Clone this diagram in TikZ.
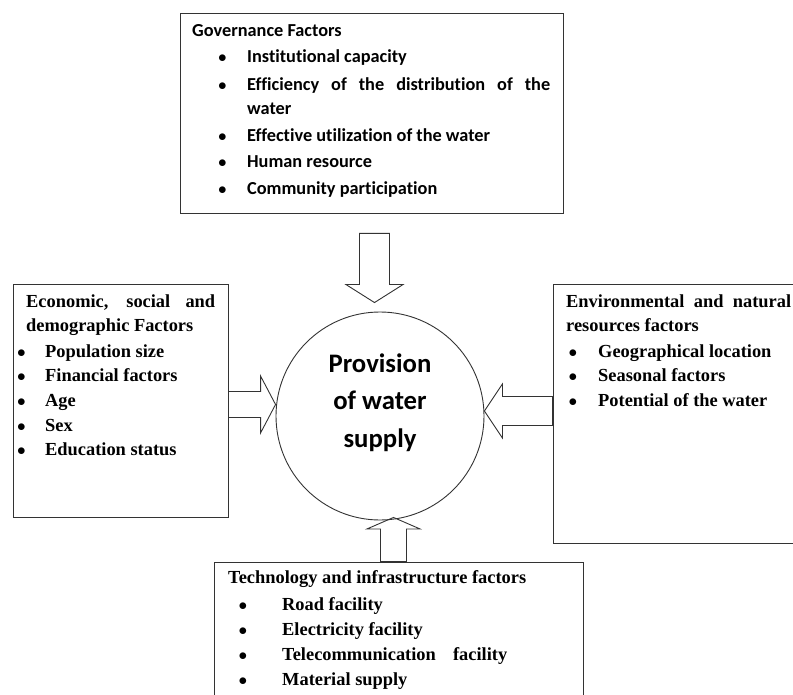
\documentclass[tikz,border=0pt]{standalone}
\usepackage{fontspec}
\setmainfont{Liberation Serif}
\newfontfamily\calibri[Ligatures=NoCommon]{Carlito}
\usetikzlibrary{calc}

\tikzset{
  box/.style={draw=black!80, line width=0.9pt, inner sep=0pt},
  txt/.style={anchor=base west, inner sep=0pt, font=\bfseries\fontsize{18.4}{22}\selectfont},
  dot/.style={anchor=base, inner sep=0pt, font=\fontsize{19}{22}\selectfont},
  govtxt/.style={anchor=base west, inner sep=0pt, font=\calibri\bfseries\fontsize{18.3}{22}\selectfont},
  hubtxt/.style={anchor=base, inner sep=0pt, font=\calibri\bfseries\fontsize{26.7}{32}\selectfont},
  % hollow block arrow: shaft half width / head half width / head length
  bigarrow/.style n args={3}{draw=black!80, line width=0.9pt, line join=miter,
    to path={let \p1=(\tikztostart), \p2=(\tikztotarget),
      \n1={atan2(\y2-\y1,\x2-\x1)}, \n2={veclen(\x2-\x1,\y2-\y1)} in
      ($(\p1)+(\n1+90:#1)$) -- ($(\p1)+(\n1:\n2-#3)+(\n1+90:#1)$)
      -- ($(\p1)+(\n1:\n2-#3)+(\n1+90:#2)$) -- (\p2)
      -- ($(\p1)+(\n1:\n2-#3)+(\n1-90:#2)$) -- ($(\p1)+(\n1:\n2-#3)+(\n1-90:#1)$)
      -- ($(\p1)+(\n1-90:#1)$) -- cycle}},
}

\begin{document}
\begin{tikzpicture}[x=1pt,y=-1pt]
      \useasboundingbox (0,0) rectangle (793,695);
      % centre
      \node[draw=black!80, line width=0.9pt, circle, inner sep=0pt, minimum size=208pt] (hub) at (380,416) {};
      \node[hubtxt] (h1) at (380,372) {Provision};
      \node[hubtxt] (h2) at (380,409) {of water};
      \node[hubtxt] (h3) at (380,447) {supply};
      % governance
      \node[box, minimum width=383pt, minimum height=200pt] (gov) at (371.5,113) {};
      \node[govtxt] (g0) at (192,37) {Governance Factors};
      \node[dot] (gb1) at (222.5,63) {$\bullet$}; \node[govtxt] (g1) at (247,63) {Institutional capacity};
      \node[dot] (gb2) at (222.5,90.5) {$\bullet$}; \node[govtxt] (g2) at (247,90.5) {\makebox[303pt][s]{Efficiency  of the distribution of the}};
      \node[govtxt] (g2b) at (247,115) {water};
      \node[dot] (gb3) at (222.5,141.5) {$\bullet$}; \node[govtxt] (g3) at (247,141.5) {Effective utilization of the water};
      \node[dot] (gb4) at (222.5,168) {$\bullet$}; \node[govtxt] (g4) at (247,168) {Human resource};
      \node[dot] (gb5) at (222.5,195) {$\bullet$}; \node[govtxt] (g5) at (247,195) {Community participation};
      % economic
      \node[box, minimum width=215pt, minimum height=233pt] (econ) at (120.5,400.5) {};
      \node[txt] (e0) at (26,307.5) {\makebox[189pt][s]{Economic, social and}};
      \node[txt] (e0b) at (26,331.5) {demographic Factors};
      \node[dot] (eb1) at (21.5,357) {$\bullet$}; \node[txt] (e1) at (45,357) {Population size};
      \node[dot] (eb2) at (21.5,381) {$\bullet$}; \node[txt] (e2) at (45,381) {Financial factors};
      \node[dot] (eb3) at (21.5,406) {$\bullet$}; \node[txt] (e3) at (45,406) {Age};
      \node[dot] (eb4) at (21.5,431) {$\bullet$}; \node[txt] (e4) at (45,431) {Sex};
      \node[dot] (eb5) at (21.5,455.5) {$\bullet$}; \node[txt] (e5) at (45,455.5) {Education status};
      % environment
      \node[box, minimum width=250pt, minimum height=259pt] (env) at (678,413.5) {};
      \node[txt] (n0) at (566,307.5) {\makebox[225pt][s]{Environmental and natural}};
      \node[txt] (n0b) at (566,331.5) {resources factors};
      \node[dot] (nb1) at (573,357) {$\bullet$}; \node[txt] (n1) at (598,357) {Geographical location};
      \node[dot] (nb2) at (573,381) {$\bullet$}; \node[txt] (n2) at (598,381) {Seasonal factors};
      \node[dot] (nb3) at (573,406) {$\bullet$}; \node[txt] (n3) at (598,406) {Potential of the water};
      % technology
      \node[box, minimum width=369pt, minimum height=158pt] (tech) at (398.5,641) {};
      \node[txt] (t0) at (228,583) {Technology and infrastructure factors};
      \node[dot] (tb1) at (243,610) {$\bullet$}; \node[txt] (t1) at (282,610) {Road facility};
      \node[dot] (tb2) at (243,635) {$\bullet$}; \node[txt] (t2) at (282,635) {Electricity facility};
      \node[dot] (tb3) at (243,660) {$\bullet$}; \node[txt] (t3) at (282,660) {\makebox[225pt][s]{Telecommunication facility}};
      \node[dot] (tb4) at (243,685) {$\bullet$}; \node[txt] (t4) at (282,685) {Material supply};
      % arrows into the centre
      \draw[bigarrow={15pt}{28.5pt}{18pt}] ($(gov.south)+(3,20)$) to ($(hub.north)+(-5.5,-9)$);
      \draw[bigarrow={13pt}{28.5pt}{15pt}] ($(econ.east)+(0,4)$) to ($(hub.west)+(0,-11.5)$);
      \draw[bigarrow={14.5pt}{27pt}{18pt}] ($(env.west)+(0,-2.5)$) to ($(hub.east)+(0,-5)$);
      \draw[bigarrow={13pt}{26.5pt}{11.5pt}] ($(tech.north)+(-5,0)$) to ($(hub.south)+(13.5,-3)$);
\end{tikzpicture}
\end{document}
